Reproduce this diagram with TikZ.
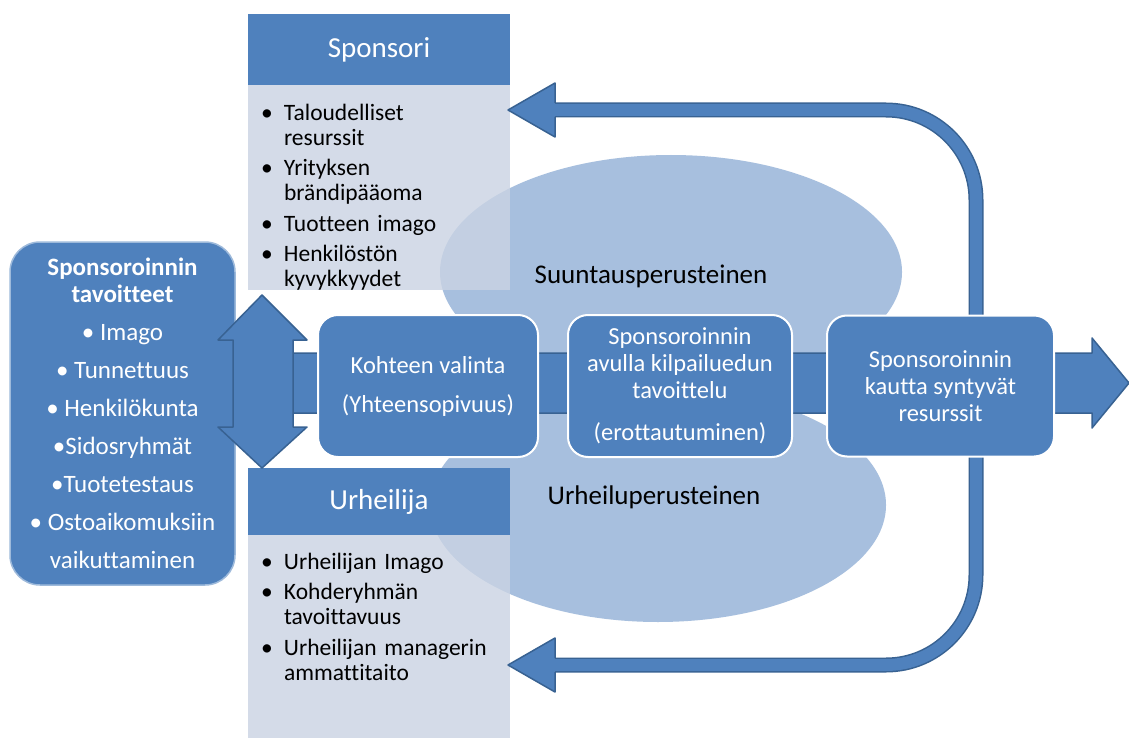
\documentclass[tikz,border=0pt]{standalone}
\usepackage{fontspec}
\setmainfont{Carlito}[Ligatures=NoCommon]
\usetikzlibrary{positioning}
\definecolor{boxblue}{RGB}{79,129,189}
\definecolor{edgeblue}{RGB}{56,98,146}
\definecolor{cloudblue}{RGB}{167,191,222}
\definecolor{listblue}{RGB}{202,211,227}
\newcommand\bitem[1]{\par\noindent\hangindent=23pt\hangafter=1\makebox[23pt][l]{\textbullet}#1\par\vspace{5.5pt}}
\tikzset{
  procbox/.style={draw=white, line width=2pt, fill=boxblue, rounded corners=20pt, text=white,
    align=center, inner sep=0pt, font=\fontsize{24.5}{27}\selectfont},
  hdrbox/.style={fill=boxblue, text=white, minimum width=262pt, inner sep=0pt,
    font=\fontsize{29}{32}\selectfont},
  listbox/.style={fill=listblue, fill opacity=0.8, minimum width=262pt, inner sep=0pt},
  listtext/.style={text width=240pt, align=left, inner sep=0pt, text=black,
    font=\fontsize{23.5}{25}\selectfont},
  goalbox/.style={draw=boxblue!55!white, line width=1.5pt, fill=boxblue, rounded corners=30pt,
    text=white, align=center, inner sep=0pt, minimum width=225pt, minimum height=343pt,
    font=\fontsize{25}{38}\selectfont},
  baselabel/.style={text=black, inner sep=0pt, font=\fontsize{27}{30}\selectfont},
  bigarrow/.style={draw=edgeblue, line width=1.5pt, fill=boxblue, line join=round},
  loopline/.style={draw=edgeblue, line width=1.5pt, double=boxblue, double distance=12pt,
    rounded corners=90pt}
}
\begin{document}
\begin{tikzpicture}[x=1pt,y=-1pt]
\useasboundingbox (0,0) rectangle (1129,738);
\fill[white] (0,0) rectangle (1129,738);
% clouds behind
\fill[cloudblue] (671,272) ellipse [x radius=231, y radius=117];
\fill[cloudblue] (658,505) ellipse [x radius=228, y radius=117];
% sponsor and athlete
\node[hdrbox, minimum height=71pt] (sphdr) at (379,49.5) {Sponsori};
\node[listbox, minimum height=205pt, below=0pt of sphdr] (spbody) {};
\node[listtext, below right=10pt and 13pt of spbody.north west] (splist) {%
\bitem{Taloudelliset\newline resurssit}
\bitem{Yrityksen\newline brändipääoma}
\bitem{Tuotteen imago}
\bitem{Henkilöstön\newline kyvykkyydet}};
\node[hdrbox, minimum height=67pt] (urhdr) at (379,501.5) {Urheilija};
\node[listbox, minimum height=203pt, below=0pt of urhdr] (urbody) {};
\node[listtext, below right=9pt and 13pt of urbody.north west] (urlist) {%
\bitem{Urheilijan Imago}
\bitem{Kohderyhmän\newline tavoittavuus}
\bitem{Urheilijan managerin\newline ammattitaito}};
\node[baselabel] (suunta) at (651,276) {Suuntausperusteinen};
\node[baselabel] (urheilu) at (654,497) {Urheiluperusteinen};
% main flow arrow
\draw[bigarrow] (293,353) -- (1092,353) -- (1092,338) -- (1129,383) -- (1092,428)
  -- (1092,413) -- (293,413) -- cycle;
% feedback loop
\coordinate (loopa) at (550,110);
\coordinate (loopb) at (550,665);
\draw[loopline] (loopa) -- (976,110) -- (976,665) -- (loopb);
\fill[boxblue] (508,110) -- (555,83) -- (555,137) -- cycle;
\draw[edgeblue, line width=1.5pt, line join=round] (555,103) -- (555,83) -- (508,110) -- (555,137) -- (555,117);
\fill[boxblue] (508,665) -- (555,638) -- (555,692) -- cycle;
\draw[edgeblue, line width=1.5pt, line join=round] (555,658) -- (555,638) -- (508,665) -- (555,692) -- (555,672);
% process steps
\node[procbox, minimum width=220pt, minimum height=142pt] (kohde) at (428,386)
  {Kohteen valinta\\[12pt](Yhteensopivuus)};
\node[procbox, minimum width=224pt, minimum height=142pt, right=28pt of kohde] (kilpailu)
  {Sponsoroinnin\\avulla kilpailuedun\\tavoittelu\\[15pt](erottautuminen)};
\node[procbox, minimum width=227pt, minimum height=141pt, right=33pt of kilpailu] (resurssit)
  {Sponsoroinnin\\kautta syntyvät\\resurssit};
% goals
\node[goalbox] (goal) at (122.5,413.5)
  {{\bfseries Sponsoroinnin}\\[-11pt]{\bfseries tavoitteet}\\\textbullet{} Imago\\\textbullet{} Tunnettuus\\
   \textbullet{} Henkilökunta\\\textbullet Sidosryhmät\\\textbullet Tuotetestaus\\
   \textbullet{} Ostoaikomuksiin\\vaikuttaminen};
\draw[bigarrow] (262,295) -- (307,340) -- (293,340) -- (293,427) -- (307,427) -- (262,468)
  -- (218,427) -- (233,427) -- (233,340) -- (218,340) -- cycle;
\end{tikzpicture}
\end{document}
